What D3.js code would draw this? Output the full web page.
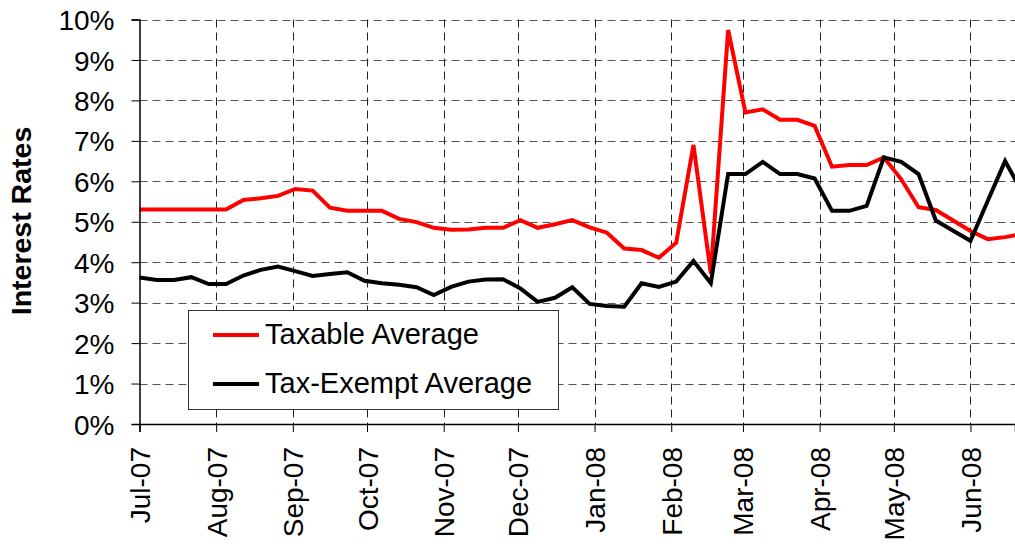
<!DOCTYPE html>
<html>
<head>
<meta charset="utf-8">
<script src="https://cdn.jsdelivr.net/npm/d3@7"></script>
<style>
  html, body { margin: 0; padding: 0; background: #fff; }
  svg { display: block; }
  text { font-family: "Liberation Sans", Arial, sans-serif; fill: #000; }
</style>
</head>
<body>
<svg id="chart" width="1015" height="546"></svg>
<script>
// ---- Data (weekly observations) ----
const dates = [
  "2007-07-01","2007-07-08","2007-07-15","2007-07-22","2007-07-29","2007-08-05","2007-08-12","2007-08-19",
  "2007-08-26","2007-09-02","2007-09-09","2007-09-16","2007-09-23","2007-09-30","2007-10-07","2007-10-14",
  "2007-10-21","2007-10-28","2007-11-04","2007-11-11","2007-11-18","2007-11-25","2007-12-02","2007-12-09",
  "2007-12-16","2007-12-23","2007-12-30","2008-01-06","2008-01-13","2008-01-20","2008-01-27","2008-02-03",
  "2008-02-10","2008-02-17","2008-02-24","2008-03-02","2008-03-09","2008-03-16","2008-03-23","2008-03-30",
  "2008-04-06","2008-04-13","2008-04-20","2008-04-27","2008-05-04","2008-05-11","2008-05-18","2008-05-25",
  "2008-06-01","2008-06-08","2008-06-15","2008-06-22"
];
const taxableAverage = [
  5.30,5.30,5.30,5.30,5.30,5.30,5.54,5.58,
  5.64,5.81,5.77,5.35,5.27,5.27,5.27,5.07,
  4.99,4.85,4.80,4.81,4.85,4.85,5.04,4.85,
  4.94,5.04,4.86,4.73,4.34,4.30,4.11,4.48,
  6.90,3.72,9.74,7.70,7.78,7.52,7.52,7.37,
  6.36,6.40,6.40,6.59,6.05,5.36,5.29,5.03,
  4.77,4.57,4.62,4.70
];
const taxExemptAverage = [
  3.62,3.56,3.56,3.63,3.46,3.46,3.67,3.81,
  3.89,3.78,3.66,3.71,3.75,3.54,3.48,3.44,
  3.38,3.19,3.39,3.52,3.57,3.58,3.35,3.02,
  3.12,3.38,2.97,2.92,2.90,3.48,3.39,3.52,
  4.03,3.48,6.18,6.18,6.48,6.18,6.18,6.07,
  5.27,5.27,5.39,6.59,6.48,6.18,5.03,4.78,
  4.53,5.52,6.50,5.72
];
const seriesNames = ["Taxable Average", "Tax-Exempt Average"];
const seriesColors = ["#ff0000", "#000000"];
const yTickValues = [0,1,2,3,4,5,6,7,8,9,10];
const yTitle = "Interest Rates";

// ---- Setup ----
const parse = d3.timeParse("%Y-%m-%d");
const svg = d3.select("#chart");
const W = 1015;
const plotLeft = 139.5, plotTop = 19.5, plotBottom = 424;

const x = d3.scaleTime()
  .domain([new Date(2007, 6, 1), new Date(2008, 5, 19)])
  .range([plotLeft, 1015]);
const y = d3.scaleLinear().domain([0, 10]).range([plotBottom, plotTop]);

const monthTicks = d3.timeMonth.range(new Date(2007, 6, 1), new Date(2008, 5, 19));

// Gridlines
const grid = svg.append("g");
grid.selectAll("line.h").data(yTickValues.filter(v => v > 0)).join("line")
  .attr("x1", plotLeft).attr("x2", W)
  .attr("y1", d => Math.round(y(d)) + 0.5).attr("y2", d => Math.round(y(d)) + 0.5)
  .attr("stroke", "#555").attr("stroke-width", 1).attr("stroke-dasharray", "8,5");
grid.selectAll("line.v").data(monthTicks.slice(1)).join("line")
  .attr("x1", d => Math.round(x(d)) + 0.5).attr("x2", d => Math.round(x(d)) + 0.5)
  .attr("y1", plotTop).attr("y2", plotBottom)
  .attr("stroke", "#222").attr("stroke-width", 1).attr("stroke-dasharray", "8,5");

// Series lines
const line = d3.line()
  .x((d, i) => x(parse(dates[i])))
  .y(d => y(d));
[taxableAverage, taxExemptAverage].forEach((vals, si) => {
  svg.append("path")
    .datum(vals)
    .attr("d", line)
    .attr("fill", "none")
    .attr("stroke", seriesColors[si])
    .attr("stroke-width", 4)
    .attr("stroke-linejoin", "miter")
    .attr("stroke-miterlimit", 3);
});

// Y axis
const yAxis = svg.append("g")
  .attr("transform", `translate(${plotLeft},0)`)
  .call(d3.axisLeft(y).tickValues(yTickValues).tickSize(8).tickPadding(17)
        .tickFormat(d => d + "%"));
yAxis.select(".domain").attr("stroke", "#000").attr("stroke-width", 1.5);
yAxis.selectAll(".tick line").attr("stroke", "#000");
yAxis.selectAll(".tick text")
  .style("font-size", "28px")
  .attr("dy", "0.36em");

// X axis
const xAxis = svg.append("g")
  .attr("transform", `translate(0,${plotBottom})`)
  .call(d3.axisBottom(x).tickValues(monthTicks).tickSize(8)
        .tickFormat(d3.timeFormat("%b-%y")));
xAxis.select(".domain").attr("stroke", "#000").attr("stroke-width", 1.5);
xAxis.selectAll(".tick line").attr("stroke", "#000");
xAxis.selectAll(".tick text")
  .style("font-size", "28px")
  .attr("text-anchor", "end")
  .attr("transform", "rotate(-90)")
  .attr("x", -23)
  .attr("y", 10)
  .attr("dy", "0");

// Y title
svg.append("text")
  .attr("transform", `translate(31,221) rotate(-90)`)
  .attr("text-anchor", "middle")
  .style("font-size", "28.5px")
  .style("font-weight", "bold")
  .text(yTitle);

// Legend
const lg = svg.append("g");
lg.append("rect")
  .attr("x", 188.5).attr("y", 310.5).attr("width", 370).attr("height", 99)
  .attr("fill", "#fff").attr("stroke", "#333").attr("stroke-width", 1);
const legY = [335, 384];
seriesNames.forEach((name, i) => {
  lg.append("line")
    .attr("x1", 213).attr("x2", 259)
    .attr("y1", legY[i]).attr("y2", legY[i])
    .attr("stroke", seriesColors[i]).attr("stroke-width", 4);
  lg.append("text")
    .attr("x", 265).attr("y", legY[i] + 9)
    .style("font-size", "29px")
    .text(name);
});
</script>
</body>
</html>
